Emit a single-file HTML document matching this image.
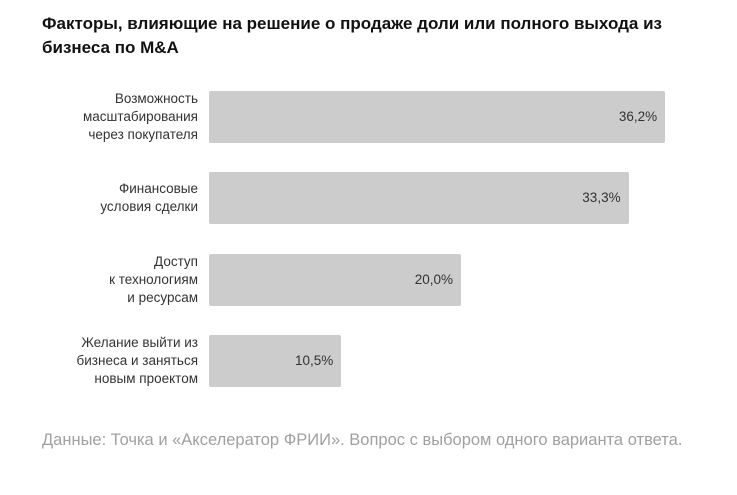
<!DOCTYPE html>
<html><head><meta charset="utf-8"><style>
body{margin:0;width:737px;height:495px;background:#fff;font-family:"Liberation Sans",sans-serif;overflow:hidden;position:relative}
.t{position:absolute;left:42px;top:12px;font-size:17px;font-weight:bold;color:#111;line-height:24px;width:680px}
.f{position:absolute;left:42px;top:428px;font-size:16.5px;color:#a0a0a0;line-height:24px;width:660px}
.lab{position:absolute;right:539px;text-align:right;font-size:13.5px;color:#333;line-height:18px}
.bar{position:absolute;background:#cccccc;border-radius:2px}
.val{position:absolute;font-size:13.5px;color:#333;text-align:right}
</style></head><body>
<div class="t">Факторы, влияющие на решение о продаже доли или полного выхода из бизнеса по M&amp;A</div>
<div id="chart"></div>
<div class="f">Данные: Точка и «Акселератор ФРИИ». Вопрос с выбором одного варианта ответа.</div>
<script>
const categories=[["Возможность","масштабирования","через покупателя"],["Финансовые","условия сделки"],["Доступ","к технологиям","и ресурсам"],["Желание выйти из","бизнеса и заняться","новым проектом"]];
const values=[36.2,33.3,20.0,10.5];
const valueLabels=["36,2%","33,3%","20,0%","10,5%"];
const x0=209, pxPer=12.6, y0=91, step=81.3, bh=52;
const xs=v=>v*pxPer;
const c=document.getElementById('chart');
values.forEach((v,i)=>{
  const y=y0+i*step;
  const b=document.createElement('div');b.className='bar';
  
  
  b.style.cssText=`left:${x0}px;top:${y}px;width:${xs(v)}px;height:${bh}px`;
  c.appendChild(b);
  const t=document.createElement('div');t.className='val';
  
  
  t.textContent=valueLabels[i];
  t.style.cssText=`left:${x0+xs(v)-80}px;width:72px;top:${y+bh/2-8}px`;
  c.appendChild(t);
  const l=document.createElement('div');l.className='lab';
  
  
  l.innerHTML=categories[i].join('<br>');
  l.style.top=(y+bh/2-categories[i].length*9)+'px';
  c.appendChild(l);
});
</script>
</body></html>
